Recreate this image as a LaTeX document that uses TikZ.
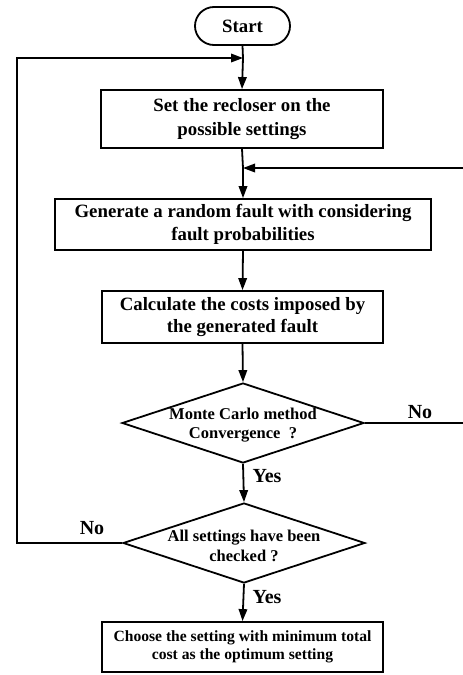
\documentclass[tikz,border=0pt]{standalone}
\usepackage{fontspec}
\setmainfont{Liberation Serif}
\usetikzlibrary{arrows.meta,shapes.geometric}
\begin{document}
\begin{tikzpicture}[x=1pt,y=-1pt,
  every node/.style={font=\bfseries},
  line/.style={line width=1.8pt},
  arr/.style={line width=1.8pt,-{Triangle[length=12pt,width=8.5pt]}},
  procbox/.style={draw,line width=1.8pt,rectangle,inner sep=0pt,align=center},
  decbox/.style={draw,line width=1.8pt,diamond,inner sep=0pt,aspect=3},
  lbl/.style={font=\bfseries\fontsize{20}{22}\selectfont}]
\useasboundingbox (0,0) rectangle (463,675);
\node[procbox,rounded corners=19pt,minimum width=95pt,minimum height=38pt,
  font=\bfseries\fontsize{18.8}{22}\selectfont] (start) at (242.5,26) {Start};
\node[procbox,minimum width=282pt,minimum height=58pt,
  font=\bfseries\fontsize{18.8}{23.5}\selectfont] (b1) at (242,119)
  {Set the recloser on the\\possible settings};
\node[procbox,minimum width=376pt,minimum height=51pt,
  font=\bfseries\fontsize{18.8}{22.5}\selectfont] (b2) at (243,224.5)
  {Generate a random fault with considering\\fault probabilities};
\node[procbox,minimum width=281pt,minimum height=52pt,
  font=\bfseries\fontsize{18.8}{22.5}\selectfont] (b3) at (242.5,317)
  {Calculate the costs imposed by\\the generated fault};
\node[decbox,minimum width=242pt,minimum height=80pt] (d1) at (243,423) {};
\node[align=center,font=\bfseries\fontsize{16.5}{19.7}\selectfont] (t1) at (243,425)
  {Monte Carlo method\\Convergence\ \ ?};
\node[decbox,minimum width=242pt,minimum height=80pt] (d2) at (244,543) {};
\node[align=center,font=\bfseries\fontsize{16.5}{19.7}\selectfont] (t2) at (244,546)
  {All settings have been\\checked ?};
\node[procbox,minimum width=281pt,minimum height=50pt,
  font=\bfseries\fontsize{15.6}{18.6}\selectfont] (b4) at (242.5,647)
  {Choose the setting with minimum total\\cost as the optimum setting};
\coordinate (j1) at (243,58);
\coordinate (j2) at (243,168);
\coordinate (l1) at (17,58);
\coordinate (l2) at (17,543);
\coordinate (r1) at (464,423);
\coordinate (r2) at (464,168);
\draw[line] (start.south) -- (j1);
\draw[arr] (j1) -- (b1.north);
\draw[arr] (d2.west) -- (l2) -- (l1) -- (j1);
\draw[line] (b1.south) -- (j2);
\draw[arr] (j2) -- (b2.north);
\draw[arr] (d1.east) -- (r1) -- (r2) -- (j2);
\draw[arr] (b2.south) -- (b3.north);
\draw[arr] (b3.south) -- (d1.north);
\draw[arr] (d1.south) -- (d2.north);
\draw[arr] (d2.south) -- (b4.north);
\node[lbl] (no1) at (420,412) {No};
\node[lbl] (yes1) at (267,476) {Yes};
\node[lbl] (no2) at (92,528) {No};
\node[lbl] (yes2) at (267,597) {Yes};
\end{tikzpicture}
\end{document}
